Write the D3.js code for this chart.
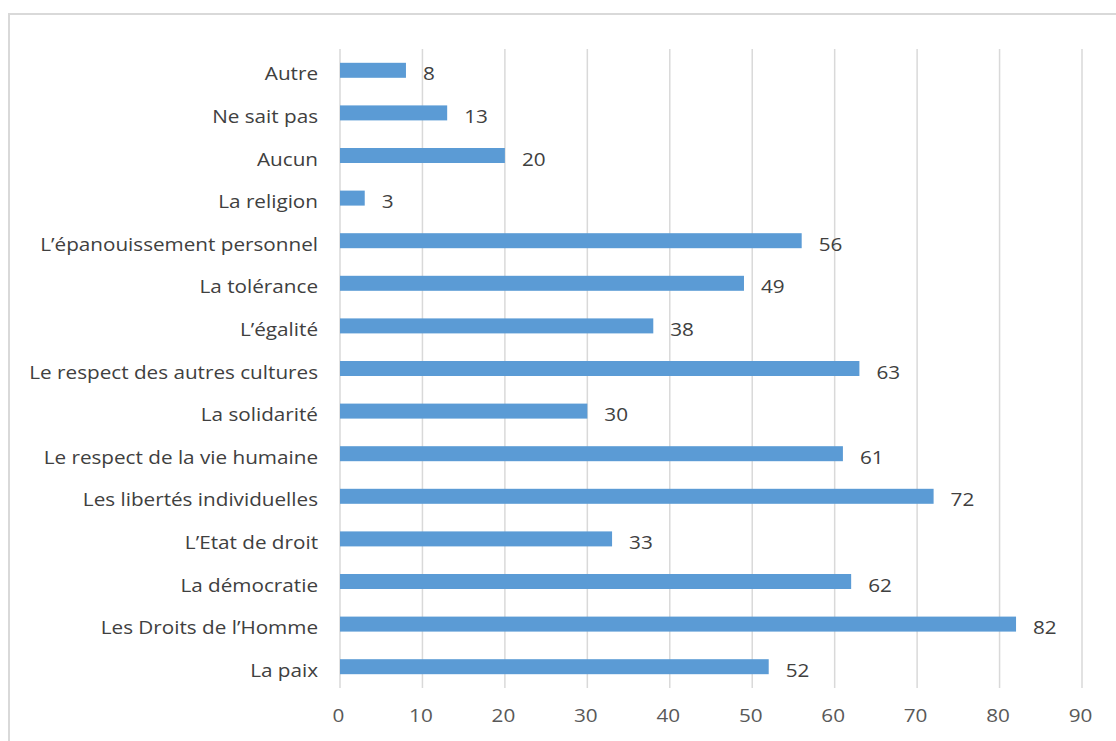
<!DOCTYPE html>
<html><head><meta charset="utf-8">
<script src="https://cdn.jsdelivr.net/npm/d3@7"></script>
<style>
html,body{margin:0;padding:0;background:#fff;}
svg{display:block;}
text{font-family:"Open Sans","Lato",sans-serif;}
</style></head>
<body>
<svg id="chart" width="1116" height="741"></svg>
<script>
const categories = ["Autre","Ne sait pas","Aucun","La religion","L’épanouissement personnel","La tolérance","L’égalité","Le respect des autres cultures","La solidarité","Le respect de la vie humaine","Les libertés individuelles","L’Etat de droit","La démocratie","Les Droits de l’Homme","La paix"];
const values = [8,13,20,3,56,49,38,63,30,61,72,33,62,82,52];
const xTicks = [0,10,20,30,40,50,60,70,80,90];

const FS = 18, SX = 1.15;
const svg = d3.select("#chart");
// chart border
svg.append("rect").attr("x",9).attr("y",14).attr("width",1200).attr("height",800)
  .attr("fill","none").attr("stroke","#d9d9d9").attr("stroke-width",2);

const x = d3.scaleLinear().domain([0,90]).range([340,1082]);
const y = d3.scaleBand().domain(categories).range([49,688]).paddingInner(0.648).paddingOuter(0.324);

// gridlines
svg.append("g").selectAll("line").data(xTicks).join("line")
  .attr("x1",d=>x(d)).attr("x2",d=>x(d)).attr("y1",49).attr("y2",688)
  .attr("stroke","#d9d9d9").attr("stroke-width",1.5);

// x axis tick labels
const xAxis = d3.axisBottom(x).tickValues(xTicks).tickSize(0).tickPadding(0);
const gx = svg.append("g").attr("transform","translate(0,709)").call(xAxis);
gx.select(".domain").remove();
gx.selectAll("text").attr("font-size",FS).attr("fill","#595959").attr("dy","0.71em")
  .attr("transform",`scale(${SX},1)`).attr("x",-2/SX)
  .style("font-family","'Open Sans',sans-serif");

// y axis labels
const yAxis = d3.axisLeft(y).tickSize(0).tickPadding(22);
const gy = svg.append("g").attr("transform","translate(340,0)").call(yAxis);
gy.select(".domain").remove();
gy.selectAll("text").attr("font-size",FS).attr("fill","#404040")
  .attr("x",0).attr("dy",null).attr("y",10)
  .attr("transform",`translate(-22,0) scale(${SX},1)`)
  .style("font-family","'Open Sans',sans-serif");

// bars
svg.append("g").selectAll("rect").data(categories).join("rect")
  .attr("x",x(0)).attr("y",d=>y(d)).attr("height",y.bandwidth())
  .attr("width",(d,i)=>x(values[i])-x(0)).attr("fill","#5b9bd5");

// value labels
svg.append("g").selectAll("text").data(categories).join("text")
  .attr("transform",(d,i)=>`translate(${x(values[i])+17},${y(d)+y.bandwidth()/2+10}) scale(${SX},1)`)
  .attr("font-size",FS).attr("fill","#404040")
  .text((d,i)=>values[i]);
</script>
</body></html>
